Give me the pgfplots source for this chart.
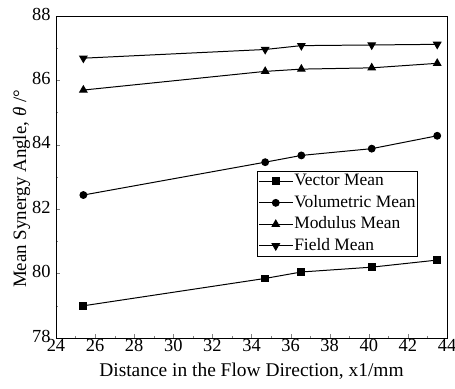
\documentclass[border=0pt]{standalone}
\usepackage{fontspec}
\setmainfont{Liberation Serif}
\usepackage{pgfplots}
\pgfplotsset{compat=1.18}
\begin{document}
\begin{tikzpicture}
\begin{axis}[
  scale only axis,
  width=391bp, height=322bp,
  xmin=24, xmax=44, ymin=78, ymax=88,
  xtick={24,26,...,44}, ytick={78,80,...,88},
  minor x tick num=1, minor y tick num=1,
  tick align=inside, xtick pos=bottom, ytick pos=left,
  major tick length=4bp, minor tick length=2.5bp,
  /pgf/number format/assume math mode=true,
  ticklabel style={font=\fontsize{18.5}{22}\selectfont},
  xticklabel style={yshift=2bp},
  yticklabel style={xshift=-2bp, yshift=2bp},
  label style={font=\fontsize{19.5}{23}\selectfont},
  xlabel={Distance in the Flow Direction, x1/mm},
  ylabel={Mean Synergy Angle, \textit{θ} /°},
  xlabel style={yshift=-4bp},
  ylabel style={yshift=-5bp, xshift=-12bp, font=\fontsize{19}{23}\selectfont},
  axis line style={line width=0.9pt},
  every axis plot/.append style={black, line width=1pt, mark size=3.4bp},
  legend style={at={(0.514,0.52)}, anchor=north west, draw=black, line width=0.6pt,
    font=\fontsize{17.5}{21}\selectfont, inner sep=1pt, row sep=2.5bp,
    nodes={inner sep=1pt, text height=13bp, text depth=4bp}},
  legend cell align=left,
  legend image code/.code={\draw[mark repeat=2,mark phase=2] plot coordinates {(0bp,0bp) (17bp,0bp) (34bp,0bp)};},
]
\addplot[mark=square*] coordinates {(25.4,79.0) (34.7,79.85) (36.55,80.05) (40.15,80.2) (43.5,80.42)};
\addlegendentry{Vector Mean}
\addplot[mark=*] coordinates {(25.4,82.44) (34.7,83.46) (36.55,83.67) (40.15,83.88) (43.5,84.28)};
\addlegendentry{Volumetric Mean}
\addplot[mark=triangle*, mark size=4.2bp] coordinates {(25.4,85.7) (34.7,86.28) (36.55,86.35) (40.15,86.39) (43.5,86.53)};
\addlegendentry{Modulus Mean}
\addplot[mark=triangle*, mark size=4.2bp, mark options={rotate=180}] coordinates {(25.4,86.69) (34.7,86.96) (36.55,87.08) (40.15,87.1) (43.5,87.12)};
\addlegendentry{Field Mean}
\end{axis}
\pgfresetboundingbox
\path (current axis.south west) ++(-56bp,-51bp) rectangle ([shift={(8bp,16bp)}]current axis.north east);
\end{tikzpicture}
\end{document}
